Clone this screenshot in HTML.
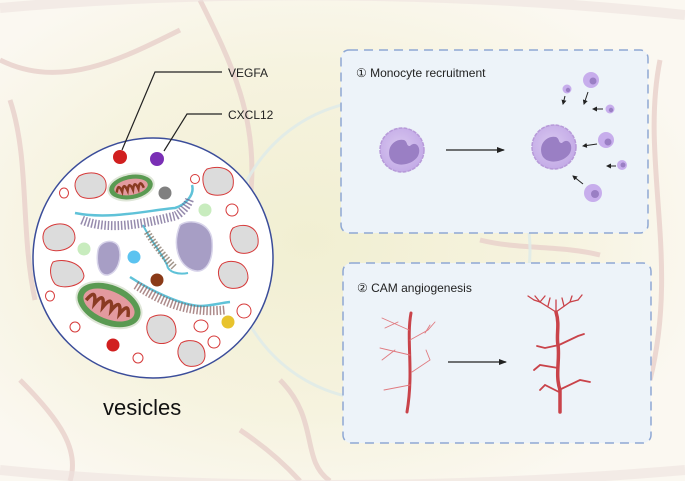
<!DOCTYPE html>
<html><head><meta charset="utf-8"><style>
html,body{margin:0;padding:0;background:#faf7ee;}
svg{display:block;font-family:"Liberation Sans",sans-serif;}
</style></head><body>
<svg width="685" height="481" viewBox="0 0 685 481" xmlns="http://www.w3.org/2000/svg">
<defs>
<radialGradient id="bg" cx="0.45" cy="0.5" r="0.6">
<stop offset="0" stop-color="#f1efd2"/><stop offset="0.6" stop-color="#f6f3df"/><stop offset="1" stop-color="#fbf8f1"/>
</radialGradient>
<radialGradient id="cellg" cx="0.45" cy="0.45" r="0.6"><stop offset="0" stop-color="#d9c8f0"/><stop offset="1" stop-color="#c2a9e6"/></radialGradient>
<marker id="ar" markerWidth="8" markerHeight="8" refX="7" refY="4" orient="auto" markerUnits="userSpaceOnUse"><path d="M0,1 L8,4 L0,7Z" fill="#222"/></marker>
<marker id="as" markerWidth="5" markerHeight="5" refX="4" refY="2.5" orient="auto" markerUnits="userSpaceOnUse"><path d="M0,0 L5,2.5 L0,5Z" fill="#222"/></marker>
</defs>
<rect width="685" height="481" fill="url(#bg)"/>
<g fill="none" stroke="#e8d0cb" stroke-width="5" opacity="0.8">
<path d="M0,60 C60,90 120,60 180,30"/>
<path d="M200,0 C230,60 260,120 250,200"/>
<path d="M20,380 C60,420 80,450 70,481"/>
<path d="M280,380 C320,420 300,460 330,481"/>
<path d="M660,60 C640,160 680,260 650,380"/>
<path d="M480,240 C520,250 560,245 600,255"/>
<path d="M10,100 C30,160 20,230 35,300"/>
<path d="M240,430 C270,450 290,470 300,481"/>
</g>
<g fill="none" stroke="#e0ebe8" stroke-width="3" opacity="0.9">
<circle cx="380" cy="250" r="150"/>
</g>
<g fill="none" stroke="#efe3df" stroke-width="10" opacity="0.6">
<path d="M0,8 C200,-10 450,-10 685,15"/>
<path d="M0,470 C200,490 450,490 685,470"/>
</g>

<rect x="341" y="50" width="307" height="183" rx="8" fill="#edf3f9" stroke="#8fa8d4" stroke-width="1.5" stroke-dasharray="9,6"/>
<rect x="343" y="263" width="308" height="180" rx="8" fill="#edf3f9" stroke="#8fa8d4" stroke-width="1.5" stroke-dasharray="9,6"/>
<text x="356" y="77" font-size="12" fill="#222">① Monocyte recruitment</text>
<text x="357" y="292" font-size="12" fill="#222">② CAM angiogenesis</text>

<g>
<circle cx="402" cy="150" r="22" fill="url(#cellg)" stroke="#b79ad9" stroke-width="1.5" stroke-dasharray="4,1"/>
<path d="M390,158 C386,146 396,138 404,140 C408,142 406,146 410,146 C416,140 422,148 418,156 C412,166 394,168 390,158Z" fill="#9a7fc4"/>
<line x1="446" y1="150" x2="504" y2="150" stroke="#222" stroke-width="1.2" marker-end="url(#ar)"/>
<circle cx="554" cy="147" r="22" fill="url(#cellg)" stroke="#b79ad9" stroke-width="1.5" stroke-dasharray="4,1"/>
<path d="M542,155 C538,143 548,135 556,137 C560,139 558,143 562,143 C568,137 574,145 570,153 C564,163 546,165 542,155Z" fill="#9a7fc4"/>
<g fill="#c7adec">
<circle cx="591" cy="80" r="8"/><circle cx="567" cy="89" r="4.5"/><circle cx="610" cy="109" r="4.5"/>
<circle cx="606" cy="140" r="8"/><circle cx="622" cy="165" r="5"/><circle cx="593" cy="193" r="9"/>
</g>
<g fill="#9a7fc4">
<circle cx="593" cy="81" r="3.5"/><circle cx="608" cy="142" r="3.5"/><circle cx="595" cy="194" r="4"/><circle cx="623" cy="165" r="2.5"/><circle cx="611" cy="110" r="2.2"/><circle cx="568" cy="90" r="2.2"/>
</g>
<g stroke="#222" stroke-width="1">
<line x1="565" y1="96" x2="563" y2="104" marker-end="url(#as)"/>
<line x1="588" y1="92" x2="584" y2="104" marker-end="url(#as)"/>
<line x1="603" y1="109" x2="593" y2="109" marker-end="url(#as)"/>
<line x1="597" y1="144" x2="583" y2="146" marker-end="url(#as)"/>
<line x1="616" y1="166" x2="607" y2="166" marker-end="url(#as)"/>
<line x1="583" y1="184" x2="573" y2="176" marker-end="url(#as)"/>
</g>
</g>

<g fill="none" stroke="#c9434a" stroke-linecap="round">
<path d="M411,313 C406,340 414,370 407,412" stroke-width="3"/>
<g stroke-width="0.9" stroke="#e07a80">
<path d="M409,330 L382,318"/><path d="M410,340 L428,330 L435,322"/><path d="M410,355 L380,348"/><path d="M412,372 L430,360 L426,350"/><path d="M410,385 L384,390"/><path d="M395,350 L382,360"/><path d="M398,322 L385,328"/><path d="M425,333 L430,325"/>
</g>
<path d="M560,412 L560,390 C555,375 560,360 558,345 C556,335 560,325 556,312" stroke-width="3.5"/>
<g stroke-width="1.3">
<path d="M556,312 L540,302 L534,300"/><path d="M556,312 L570,302 L578,300"/>
<path d="M540,302 L535,296"/><path d="M540,302 L545,296"/><path d="M548,306 L550,298"/><path d="M564,306 L562,298"/><path d="M570,302 L572,296"/><path d="M578,300 L582,295"/><path d="M534,300 L528,296"/><path d="M556,312 L556,300"/>
</g>
<g stroke-width="1.8">
<path d="M559,345 L578,336 L584,334"/><path d="M559,345 L545,348 L537,346"/><path d="M558,368 L540,365 L534,370"/><path d="M559,390 L580,380 L590,382"/><path d="M559,392 L545,385 L540,390"/>
</g>
</g>
<line x1="448" y1="362" x2="506" y2="362" stroke="#222" stroke-width="1.2" marker-end="url(#ar)"/>

<circle cx="153" cy="258" r="120" fill="#fff" stroke="#3b4d9a" stroke-width="1.5"/>
<g fill="#dcdcdc" stroke="#d63a3a" stroke-width="1">
<path d="M79,176 C90,170 108,172 106,188 C104,200 85,200 80,196 C74,190 73,182 79,176Z"/>
<path d="M207,169 C220,165 236,168 233,186 C230,197 212,197 207,192 C202,185 201,174 207,169Z"/>
<path d="M45,230 C55,220 75,222 75,238 C74,250 55,254 47,248 C42,242 42,235 45,230Z"/>
<path d="M233,228 C244,222 260,226 258,244 C256,254 240,256 235,250 C230,244 228,234 233,228Z"/>
<path d="M53,262 C63,258 82,262 84,276 C83,286 62,290 55,284 C50,278 49,268 53,262Z"/>
<path d="M222,264 C232,258 248,262 248,278 C246,290 230,290 225,286 C218,280 216,270 222,264Z"/>
<path d="M150,318 C160,312 176,314 176,332 C174,345 158,346 152,340 C146,334 145,325 150,318Z"/>
<path d="M181,343 C190,338 205,340 205,356 C204,368 188,368 184,364 C177,358 176,350 181,343Z"/>
</g>
<g fill="none" stroke="#d63a3a" stroke-width="1">
<ellipse cx="64" cy="193" rx="4.5" ry="5"/><ellipse cx="195" cy="179" rx="4.5" ry="4.5"/><ellipse cx="232" cy="210" rx="6" ry="6"/>
<ellipse cx="50" cy="296" rx="4.5" ry="5"/><ellipse cx="75" cy="327" rx="5" ry="5"/><ellipse cx="138" cy="358" rx="5" ry="5"/>
<ellipse cx="201" cy="326" rx="7" ry="6"/><ellipse cx="214" cy="342" rx="6" ry="6"/><ellipse cx="244" cy="311" rx="7" ry="7"/>
</g>
<g fill="#a79ec5" stroke="#d8d4ea" stroke-width="1.5">
<path d="M180,225 C190,218 210,222 212,240 C214,262 205,275 192,270 C178,264 172,245 180,225Z"/>
<path d="M98,250 C100,240 116,238 119,248 C122,258 118,272 108,275 C98,276 96,262 98,250Z"/>
</g>
<ellipse cx="131" cy="187" rx="23" ry="13" fill="#5a9a52" stroke="#dfe6d8" stroke-width="2" transform="rotate(-10 131 187)"/>
<ellipse cx="131" cy="187" rx="17" ry="8" fill="#e39a9f" transform="rotate(-10 131 187)"/>
<path d="M116,190 q3,-10 5.5,0 q3,-10 5.5,0 q3,-10 5.5,0 q3,-10 5.5,0 q3,-10 5.5,0" fill="none" stroke="#8a3a22" stroke-width="2.5" transform="rotate(-10 131 187)"/>
<ellipse cx="109" cy="305" rx="34" ry="21" fill="#5a9a52" stroke="#dfe6d8" stroke-width="2" transform="rotate(22 109 305)"/>
<ellipse cx="109" cy="305" rx="27" ry="14" fill="#e39a9f" transform="rotate(22 109 305)"/>
<path d="M86,309 q5,-16 9,0 q5,-16 9,0 q5,-16 9,0 q5,-16 9,0 q5,-16 9,0" fill="none" stroke="#8a3a22" stroke-width="3.5" transform="rotate(22 109 305)"/>
<g fill="none">
<path d="M75,213 C110,220 150,210 175,208 C185,205 195,195 192,185" stroke="#5fc2d8" stroke-width="2.5"/>
<path d="M143,225 C150,240 160,250 167,265 C168,272 178,275 188,273" stroke="#5fc2d8" stroke-width="2"/>
<path d="M130,277 C150,290 180,305 200,306 C210,306 220,303 230,302" stroke="#5fc2d8" stroke-width="2.5"/>
</g>
<g stroke-dasharray="1.5,1.8" fill="none">
<path d="M82,220 C110,232 150,222 175,216 C182,213 188,205 190,198" stroke="#6a5a8a" stroke-width="9" opacity="0.7"/>
<path d="M136,285 C160,300 185,314 225,310" stroke="#8a5a5a" stroke-width="9" opacity="0.7"/>
<path d="M147,232 C155,245 165,258 175,268" stroke="#7a6a5a" stroke-width="7" opacity="0.7"/>
</g>
<circle cx="120" cy="157" r="7" fill="#d11f1f"/>
<circle cx="157" cy="159" r="7" fill="#7a2fb5"/>
<circle cx="165" cy="193" r="6.5" fill="#808080"/>
<circle cx="205" cy="210" r="6.5" fill="#c8ecbe"/>
<circle cx="84" cy="249" r="6.5" fill="#c8ecbe"/>
<circle cx="134" cy="257" r="6.5" fill="#5bc3f0"/>
<circle cx="157" cy="280" r="6.5" fill="#8a3a17"/>
<circle cx="228" cy="322" r="6.5" fill="#e8c32d"/>
<circle cx="113" cy="345" r="6.5" fill="#d11f1f"/>
<polyline points="122,150 155,72 222,72" fill="none" stroke="#222" stroke-width="1.2"/>
<polyline points="164,151 187,114 222,114" fill="none" stroke="#222" stroke-width="1.2"/>
<text x="228" y="77" font-size="12" fill="#222">VEGFA</text>
<text x="228" y="119" font-size="12" fill="#222">CXCL12</text>
<text x="103" y="415" font-size="22" fill="#111">vesicles</text>
</svg>
</body></html>
